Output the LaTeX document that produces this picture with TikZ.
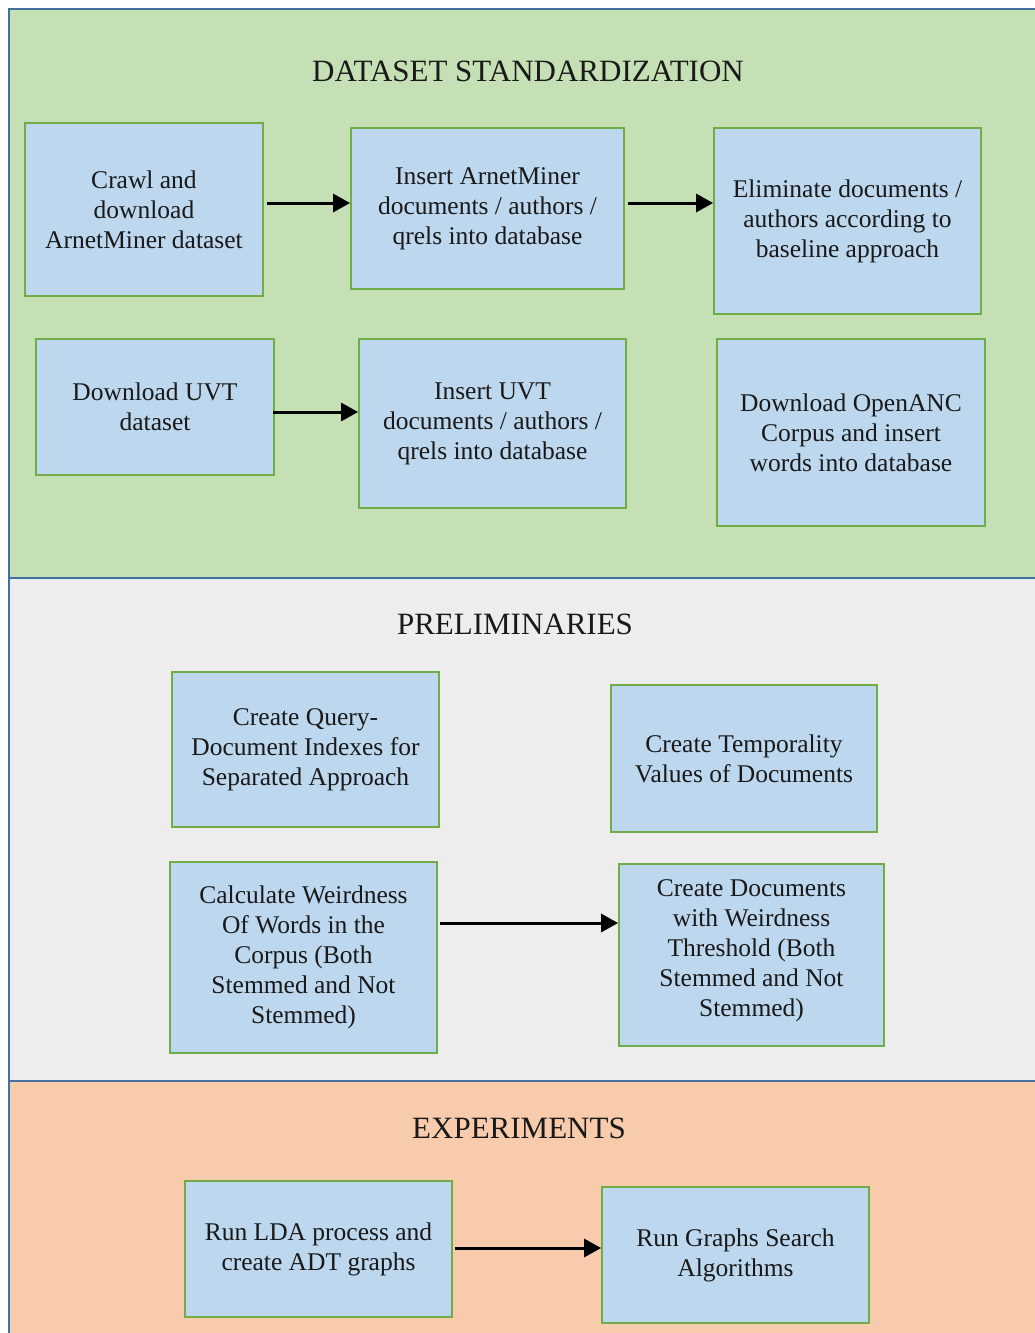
\documentclass[tikz,border=0pt]{standalone}
\usepackage{fontspec}
\setmainfont{Liberation Serif}
\usetikzlibrary{arrows.meta}
\definecolor{bggreen}{HTML}{C5E0B4}
\definecolor{bggrey}{HTML}{EDEDED}
\definecolor{bgpeach}{HTML}{F8CBAD}
\definecolor{boxblue}{HTML}{BDD7EE}
\definecolor{boxedge}{HTML}{70AD47}
\definecolor{frameblue}{HTML}{41719C}
\tikzset{
  box/.style={draw=boxedge, line width=1.8pt, fill=boxblue, align=center,
    inner sep=0pt, font=\fontsize{25.5}{30}\selectfont, text=black!90},
  sectitle/.style={font=\fontsize{31}{36}\selectfont, text=black!90},
  arr/.style={line width=3pt, -{Triangle[length=17pt,width=18pt]}},
  frame/.style={draw=frameblue, line width=2.2pt}
}
\begin{document}
\begin{tikzpicture}[x=1pt,y=-1pt]
\useasboundingbox (0,0) rectangle (1035,1333);
\clip (0,0) rectangle (1035,1333);
% section backgrounds
\fill[white] (0,0) rectangle (1035,1333);
\fill[bggreen] (9,9) rectangle (1045,578);
\fill[bggrey] (9,578) rectangle (1045,1081);
\fill[bgpeach] (9,1081) rectangle (1045,1345);
\draw[frame] (9,9) rectangle (1045,1345);
\draw[frame] (9,578) -- (1045,578);
\draw[frame] (9,1081) -- (1045,1081);
% titles
\node[sectitle] (t1) at (528,71) {DATASET STANDARDIZATION};
\node[sectitle] (t2) at (515,624) {PRELIMINARIES};
\node[sectitle] (t3) at (519,1128) {EXPERIMENTS};
% boxes
\node[box, minimum width=238pt, minimum height=173pt] (n1) at (144,209.5) {Crawl and\\download\\ArnetMiner dataset};
\node[box, minimum width=273pt, minimum height=161pt] (n2) at (487.5,208.5) {Insert ArnetMiner\\documents / authors /\\qrels into database};
\node[box, minimum width=267pt, minimum height=186pt] (n3) at (847.5,221) {Eliminate documents /\\authors according to\\baseline approach};
\node[box, minimum width=238pt, minimum height=136pt] (n4) at (155,407) {Download UVT\\dataset};
\node[box, minimum width=267pt, minimum height=169pt] (n5) at (492.5,423.5) {Insert UVT\\documents / authors /\\qrels into database};
\node[box, minimum width=268pt, minimum height=187pt] (n6) at (851,432.5) {Download OpenANC\\Corpus and insert\\words into database};
\node[box, minimum width=267pt, minimum height=155pt] (n7) at (305.5,749.5) {Create Query-\\Document Indexes for\\Separated Approach};
\node[box, minimum width=266pt, minimum height=147pt] (n8) at (744,758.5) {Create Temporality\\Values of Documents};
\node[box, minimum width=267pt, minimum height=191pt] (n9) at (303.5,957.5) {Calculate Weirdness\\Of Words in the\\Corpus (Both\\Stemmed and Not\\Stemmed)};
\node[box, minimum width=265pt, minimum height=182pt] (n10) at (751.5,955) {Create Documents\\with Weirdness\\Threshold (Both\\Stemmed and Not\\Stemmed)\\[-17pt]\mbox{}};
\node[box, minimum width=267pt, minimum height=136pt] (n11) at (318.5,1249) {Run LDA process and\\create ADT graphs};
\node[box, minimum width=267pt, minimum height=136pt] (n12) at (735.5,1255) {Run Graphs Search\\Algorithms};
% arrow levels
\coordinate (y1) at (0,203);
\coordinate (y2) at (0,412);
\coordinate (y3) at (0,923);
\coordinate (y4) at (0,1248);
\draw[arr, shorten <=3pt] (n1.east |- y1) -- (n2.west |- y1);
\draw[arr, shorten <=3pt] (n2.east |- y1) -- (n3.west |- y1);
\draw[arr, shorten <=-2pt] (n4.east |- y2) -- (n5.west |- y2);
\draw[arr, shorten <=2pt] (n9.east |- y3) -- (n10.west |- y3);
\draw[arr, shorten <=2pt] (n11.east |- y4) -- (n12.west |- y4);
\end{tikzpicture}
\end{document}
